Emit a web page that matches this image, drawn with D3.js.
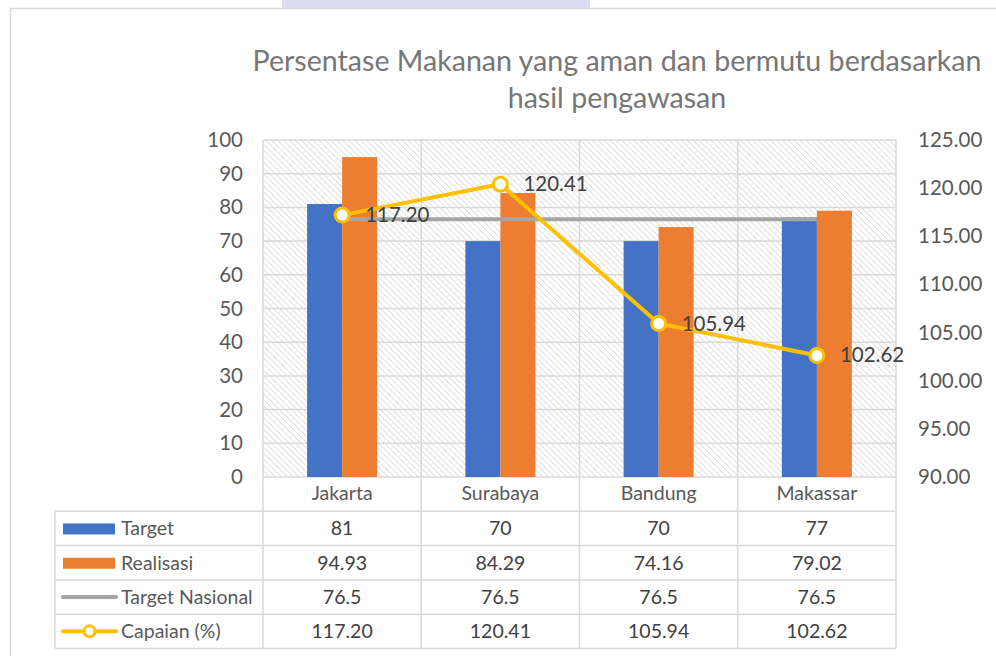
<!DOCTYPE html>
<html>
<head>
<meta charset="utf-8">
<script src="https://cdn.jsdelivr.net/npm/d3@7"></script>
<style>
  body { margin: 0; background: #fff; }
  svg { display: block; font-family: "Lato", "Open Sans", sans-serif; }
</style>
</head>
<body>
<div id="chart"></div>
<script>
// chart values
const categories = ["Jakarta", "Surabaya", "Bandung", "Makassar"];
const target = [81, 70, 70, 77];
const realisasi = [94.93, 84.29, 74.16, 79.02];
const targetNasional = [76.5, 76.5, 76.5, 76.5];
const capaian = [117.20, 120.41, 105.94, 102.62];
const leftTicks = [0, 10, 20, 30, 40, 50, 60, 70, 80, 90, 100];
const rightTicks = [90, 95, 100, 105, 110, 115, 120, 125];
const titleLines = ["Persentase Makanan yang aman dan bermutu berdasarkan", "hasil pengawasan"];

const W = 996, H = 656;
const plot = {left: 263, right: 896, top: 140, bottom: 477};
const rowH = 34.3;
const tableLeft = 55;

const svg = d3.select("#chart").append("svg")
    .attr("width", W)
    .attr("height", H);

// faint page bits behind the chart
svg.append("rect").attr("x", 282).attr("y", 0).attr("width", 308).attr("height", 8).attr("fill", "#dedcf5");

// chart frame
svg.append("rect")
    .attr("x", 10.5).attr("y", 8.5)
    .attr("width", 1000).attr("height", 700)
    .attr("fill", "#fff")
    .attr("stroke", "#d9d9d9")
    .attr("stroke-width", 1.5);

// hatch pattern for plot area
const defs = svg.append("defs");
defs.append("pattern")
    .attr("id", "hatch")
    .attr("patternUnits", "userSpaceOnUse")
    .attr("width", 4.2).attr("height", 4.2)
    .attr("patternTransform", "rotate(-45)")
    .append("line")
    .attr("x1", 0).attr("y1", 0).attr("x2", 0).attr("y2", 4.2)
    .attr("stroke", "#d4d4d4")
    .attr("stroke-width", 1.4);

const x = d3.scaleBand().domain(categories).range([plot.left, plot.right]).padding(0);
const xs = d3.scaleBand().domain(["target", "realisasi"]).range([0, x.bandwidth()])
    .paddingInner(0).paddingOuter(1.26);
const y = d3.scaleLinear().domain([0, 100]).range([plot.bottom, plot.top]);
const y2 = d3.scaleLinear().domain([90, 125]).range([plot.bottom, plot.top]);

svg.append("rect")
    .attr("x", plot.left).attr("y", plot.top)
    .attr("width", plot.right - plot.left).attr("height", plot.bottom - plot.top)
    .attr("fill", "url(#hatch)");

// gridlines
svg.append("g").selectAll("line")
    .data(leftTicks)
    .join("line")
    .attr("x1", plot.left).attr("x2", plot.right)
    .attr("y1", d => y(d)).attr("y2", d => y(d))
    .attr("stroke", "#d9d9d9").attr("stroke-width", 1.5);

// vertical category dividers through plot and table
const table0 = plot.bottom;
const tableBottom = plot.bottom + rowH * 5;
const edges = categories.map(c => x(c)).concat([plot.right]);
svg.append("g").selectAll("line")
    .data(edges)
    .join("line")
    .attr("x1", d => d).attr("x2", d => d)
    .attr("y1", plot.top).attr("y2", tableBottom)
    .attr("stroke", "#d9d9d9").attr("stroke-width", 1.5);

// bars
const barData = [];
categories.forEach((c, i) => {
    barData.push({cat: c, key: "target", v: target[i], color: "#4472c4"});
    barData.push({cat: c, key: "realisasi", v: realisasi[i], color: "#ed7d31"});
});
svg.append("g").selectAll("rect")
    .data(barData)
    .join("rect")
    .attr("x", d => x(d.cat) + xs(d.key))
    .attr("width", xs.bandwidth())
    .attr("y", d => y(d.v))
    .attr("height", d => y(0) - y(d.v))
    .attr("fill", d => d.color);

const cx = c => x(c) + x.bandwidth() / 2;

// target nasional line
svg.append("path")
    .datum(targetNasional)
    .attr("d", d3.line().x((d, i) => cx(categories[i])).y(d => y(d)))
    .attr("fill", "none")
    .attr("stroke", "#a5a5a5")
    .attr("stroke-width", 4);

// capaian line on secondary axis
svg.append("path")
    .datum(capaian)
    .attr("d", d3.line().x((d, i) => cx(categories[i])).y(d => y2(d)))
    .attr("fill", "none")
    .attr("stroke", "#ffc000")
    .attr("stroke-width", 4)
    .attr("stroke-linejoin", "round");

svg.append("g").selectAll("circle")
    .data(capaian)
    .join("circle")
    .attr("cx", (d, i) => cx(categories[i]))
    .attr("cy", d => y2(d))
    .attr("r", 7)
    .attr("fill", "#fff")
    .attr("stroke", "#ffc000")
    .attr("stroke-width", 3);

svg.append("g").selectAll("text")
    .data(capaian)
    .join("text")
    .attr("x", (d, i) => cx(categories[i]) + 23)
    .attr("y", d => y2(d) + 7)
    .attr("fill", "#404040")
    .attr("font-size", 20.5)
    .text(d => d3.format(".2f")(d));

// axes
const axisLeft = svg.append("g")
    .attr("transform", `translate(${plot.left - 20},0)`)
    .call(d3.axisLeft(y).tickValues(leftTicks).tickSize(0).tickPadding(0));
axisLeft.select(".domain").remove();
axisLeft.selectAll("text").attr("font-size", 20.5).attr("fill", "#595959").attr("font-family", "Lato, sans-serif");

const axisRight = svg.append("g")
    .attr("transform", `translate(${plot.right + 22},0)`)
    .call(d3.axisRight(y2).tickValues(rightTicks).tickFormat(d3.format(".2f")).tickSize(0).tickPadding(0));
axisRight.select(".domain").remove();
axisRight.selectAll("text").attr("font-size", 20.5).attr("fill", "#595959").attr("font-family", "Lato, sans-serif");

// title
svg.append("text")
    .attr("x", 617).attr("y", 71)
    .attr("text-anchor", "middle")
    .attr("font-size", 28.6)
    .attr("fill", "#767676")
    .selectAll("tspan")
    .data(titleLines)
    .join("tspan")
    .attr("x", 617)
    .attr("dy", (d, i) => i ? 37 : 0)
    .text(d => d);

// data table
const rows = [
    {name: "Target", vals: target, fmt: d3.format("d"), kind: "bar", color: "#4472c4"},
    {name: "Realisasi", vals: realisasi, fmt: d3.format(".2f"), kind: "bar", color: "#ed7d31"},
    {name: "Target Nasional", vals: targetNasional, fmt: d3.format(".1f"), kind: "line", color: "#a5a5a5"},
    {name: "Capaian (%)", vals: capaian, fmt: d3.format(".2f"), kind: "marker", color: "#ffc000"}
];

// category header
svg.append("g").selectAll("text")
    .data(categories)
    .join("text")
    .attr("x", d => cx(d))
    .attr("y", table0 + rowH / 2 + 6)
    .attr("text-anchor", "middle")
    .attr("font-size", 19.5)
    .attr("fill", "#595959")
    .text(d => d);

const rowTop = i => table0 + rowH * (i + 1);

// horizontal table lines
svg.append("g").selectAll("line")
    .data(d3.range(5))
    .join("line")
    .attr("x1", tableLeft).attr("x2", plot.right)
    .attr("y1", i => rowTop(i)).attr("y2", i => rowTop(i))
    .attr("stroke", "#d9d9d9").attr("stroke-width", 1.5);

svg.append("line")
    .attr("x1", tableLeft).attr("x2", tableLeft)
    .attr("y1", rowTop(0)).attr("y2", rowTop(4))
    .attr("stroke", "#d9d9d9").attr("stroke-width", 1.5);

const rowG = svg.append("g").selectAll("g")
    .data(rows)
    .join("g")
    .attr("transform", (d, i) => `translate(0,${rowTop(i) + rowH / 2})`);

rowG.filter(d => d.kind === "bar").append("rect")
    .attr("x", 63).attr("y", -5).attr("width", 52).attr("height", 11)
    .attr("fill", d => d.color);

rowG.filter(d => d.kind !== "bar").append("line")
    .attr("x1", 63).attr("x2", 116).attr("y1", 0).attr("y2", 0)
    .attr("stroke", d => d.color).attr("stroke-width", 4).attr("stroke-linecap", "round");

rowG.filter(d => d.kind === "marker").append("circle")
    .attr("cx", 89.5).attr("cy", 0).attr("r", 5.5)
    .attr("fill", "#fff").attr("stroke", d => d.color).attr("stroke-width", 3);

rowG.append("text")
    .attr("x", 121).attr("y", 7)
    .attr("font-size", 19.5)
    .attr("fill", "#595959")
    .text(d => d.name);

rowG.selectAll("text.val")
    .data(d => d.vals.map((v, i) => ({cat: categories[i], txt: d.fmt(v)})))
    .join("text")
    .attr("class", "val")
    .attr("x", d => cx(d.cat))
    .attr("y", 7)
    .attr("text-anchor", "middle")
    .attr("font-size", 19.5)
    .attr("fill", "#404040")
    .text(d => d.txt);
</script>
</body>
</html>
